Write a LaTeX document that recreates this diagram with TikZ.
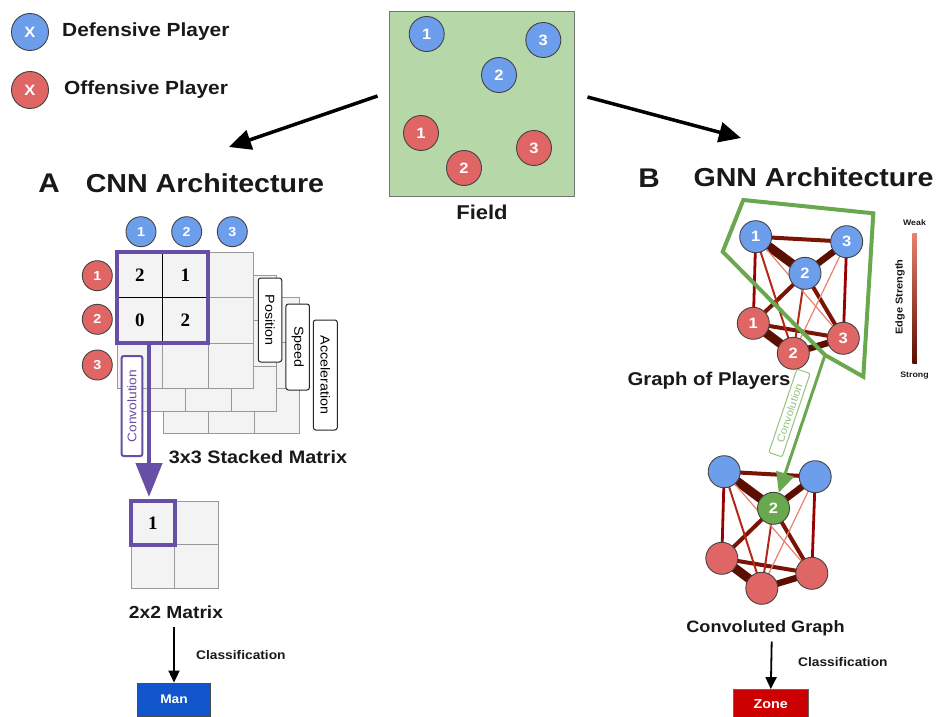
\documentclass[tikz,border=0pt]{standalone}
\usepackage{fontspec}
\setmainfont{Liberation Sans}
\newfontfamily\lbfam[FakeStretch=1.1]{Liberation Sans}
\newfontfamily\serfam{Liberation Serif}
\newcommand\fB[1]{\lbfam\bfseries\fontsize{#1}{#1}\selectfont}
\newcommand\fR[1]{\lbfam\fontsize{#1}{#1}\selectfont}
\newcommand\fS[1]{\serfam\bfseries\fontsize{#1}{#1}\selectfont}
\usetikzlibrary{arrows.meta,backgrounds}
\definecolor{pblue}{HTML}{6D9EEB}
\definecolor{pred}{HTML}{E06666}
\definecolor{fieldg}{HTML}{B6D7A8}
\definecolor{purp}{HTML}{674EA7}
\definecolor{gg}{HTML}{6AA84F}
\definecolor{lgg}{HTML}{93C47D}
\definecolor{cellg}{HTML}{F3F3F3}
\definecolor{gridg}{HTML}{999999}
\definecolor{manb}{HTML}{1155CC}
\definecolor{zoner}{HTML}{CC0000}
\definecolor{edA}{HTML}{5B0F00}
\definecolor{edB}{HTML}{7A1505}
\definecolor{edC}{HTML}{990000}
\definecolor{edD}{HTML}{B4281A}
\definecolor{edE}{HTML}{E8806F}
\definecolor{circb}{HTML}{434343}
\begin{document}
\begin{tikzpicture}[x=1pt,y=-1pt,
  pl/.style={circle, draw=circb, line width=0.9, inner sep=0, minimum size=#1, text=white},
  bp/.style={pl=#1, fill=pblue},
  rp/.style={pl=#1, fill=pred},
  gp/.style={pl=#1, fill=gg},
  lbl/.style={inner sep=0, text=black!90},
  lblbox/.style={draw=black!85, fill=white, rounded corners=2.5, rotate=-90, line width=1, inner sep=1, font=\fR{13}},
  bigarrow/.style={line width=3.5, -{Triangle[length=22,width=20]}},
  clsarrow/.style={line width=1.8, -{Triangle[length=12,width=11]}},
  eA/.style={edA, line width=9},
  eB/.style={edA, line width=6.5},
  eC/.style={edB, line width=4},
  eD/.style={edC, line width=2.8},
  eE/.style={edD, line width=2},
  eF/.style={edE, line width=1.2},
  cell/.style={draw=gridg, fill=cellg, line width=1},
]
\useasboundingbox (0,0) rectangle (937,717);

% legend
\node[bp=37, font=\fB{15}] (legb) at (30,32) {X};
\node[rp=37, font=\fB{15}] (legr) at (30,90) {X};
\node[lbl, anchor=west, font=\fB{19}] (legbt) at (62,32) {Defensive Player};
\node[lbl, anchor=west, font=\fB{19}] (legrt) at (64,90) {Offensive Player};

% field
\node[draw=black!55, fill=fieldg, minimum width=185, minimum height=184, line width=1, inner sep=0] (field) at (481.5,104) {};
\node[bp=35, font=\fB{15}] (fb1) at (426.7,34) {1};
\node[bp=35, font=\fB{15}] (fb3) at (543.3,40) {3};
\node[bp=35, font=\fB{15}] (fb2) at (499,75) {2};
\node[rp=35, font=\fB{15}] (fr1) at (421,133) {1};
\node[rp=35, font=\fB{15}] (fr2) at (464,168) {2};
\node[rp=35, font=\fB{15}] (fr3) at (534,148) {3};
\node[lbl, font=\fB{20}] (fieldt) at (482,212) {Field};
\coordinate (ltip) at (229,147);
\coordinate (rtip) at (741,138);
\draw[bigarrow] ([xshift=-11pt,yshift=8pt]field.west) -- (ltip);
\draw[bigarrow] ([xshift=13pt,yshift=7pt]field.east) -- (rtip);

% titles
\node[lbl, font=\fB{27}] (tA) at (49,183) {A};
\node[lbl, font=\fB{26}] (tCNN) at (205,183) {CNN Architecture};
\node[lbl, font=\fB{27}] (tB) at (649,178) {B};
\node[lbl, font=\fB{26}] (tGNN) at (813.5,177) {GNN Architecture};

% CNN stacked layers
\foreach \dx/\dy in {46/45,23/23,0/0}{
  \begin{scope}[shift={(\dx,\dy)}]
    \draw[cell] (117,252) rectangle (253.5,388.5);
    \draw[gridg, line width=1] (162.5,252) -- (162.5,388.5) (208,252) -- (208,388.5)
      (117,297.5) -- (253.5,297.5) (117,343) -- (253.5,343);
  \end{scope}
}
\draw[black, line width=1.3] (162.5,252) -- (162.5,343) (117,297.5) -- (208,297.5);
\node[font=\fS{19}] (c11) at (139.75,274.75) {2};
\node[font=\fS{19}] (c12) at (185.25,274.75) {1};
\node[font=\fS{19}] (c21) at (139.75,320.25) {0};
\node[font=\fS{19}] (c22) at (185.25,320.25) {2};
\node[draw=purp, line width=4, minimum width=91, minimum height=91, inner sep=0] (pbox) at (162.5,297.5) {};

\node[bp=30, font=\fB{13}] (cb1) at (141,231.7) {1};
\node[bp=30, font=\fB{13}] (cb2) at (186.7,231.7) {2};
\node[bp=30, font=\fB{13}] (cb3) at (232.3,231.7) {3};
\node[rp=30, font=\fB{13}] (cr1) at (97.3,275.7) {1};
\node[rp=30, font=\fB{13}] (cr2) at (97.3,319.3) {2};
\node[rp=30, font=\fB{13}] (cr3) at (97.3,365) {3};

\node[lblbox, minimum width=84, minimum height=23.5] (pos) at (270,320) {Position};
\node[lblbox, minimum width=86, minimum height=23.5] (spd) at (297.7,347) {Speed};
\node[lblbox, minimum width=110, minimum height=24] (acc) at (325.3,375) {Acceleration};

\node[draw=purp, fill=white, line width=2, rounded corners=2, rotate=90, text=purp, font=\fR{12.5}, minimum width=100, minimum height=20.6, inner sep=1] (convA) at (132,406) {Convolution};
\node[lbl, font=\fB{18}] (stk) at (258,457) {3x3 Stacked Matrix};

% 2x2 matrix
\draw[cell] (131,501) rectangle (218,588);
\draw[gridg, line width=1] (174.5,501) -- (174.5,588) (131,544.5) -- (218,544.5);
\node[draw=purp, line width=4, minimum width=43.5, minimum height=43.5, inner sep=0, font=\fS{19}] (m1) at (152.75,522.75) {1};
\coordinate (cx) at (149,0);
\draw[purp, line width=4.5, -{Triangle[length=34,width=26]}] (pbox.south -| cx) -- ([yshift=2pt]m1.north -| cx);
\node[lbl, font=\fB{17.5}] (m2t) at (176,612) {2x2 Matrix};
\node[fill=manb, draw=black!70, line width=0.8, minimum width=73, minimum height=33, inner sep=0, text=white, font=\fB{12.5}] (man) at (174,699.5) {Man};
\draw[clsarrow] (174,627) -- (man.north) ;
\node[lbl, anchor=west, font=\fB{12.5}] (clsA) at (196,655) {Classification};

% GNN graph
\node[bp=32, font=\fB{15}] (gb1) at (755.7,236.7) {1};
\node[bp=32, font=\fB{15}] (gb3) at (846.7,241.7) {3};
\node[bp=32, font=\fB{15}] (gb2) at (805,273.3) {2};
\node[rp=32, font=\fB{15}] (gr1) at (753.3,323.3) {1};
\node[rp=32, font=\fB{15}] (gr2) at (793.3,353.3) {2};
\node[rp=32, font=\fB{15}] (gr3) at (843.3,338.3) {3};

\begin{scope}[shift={(-31.5,235)}]
\node[bp=32] (hb1) at (755.7,236.7) {};
\node[bp=32] (hb3) at (846.7,241.7) {};
\node[gp=32, font=\fB{15}] (hb2) at (805,273.3) {2};
\node[rp=32] (hr1) at (753.3,323.3) {};
\node[rp=32] (hr2) at (793.3,353.3) {};
\node[rp=32] (hr3) at (843.3,338.3) {};
\end{scope}

\begin{scope}[on background layer]
\foreach \p in {g,h}{
  \foreach \a/\b/\s in {b1/b2/eA, b2/b3/eB, b1/b3/eC, r1/r2/eA, r2/r3/eB, r1/r3/eC,
     b2/r3/eC, b2/r1/eC, b1/r1/eD, b3/r3/eD, b1/r2/eE, b2/r2/eE, b1/r3/eF, b3/r2/eF}{
    \draw[\s] (\p\a.center) -- (\p\b.center);
  }
}
\end{scope}

\coordinate (gtail) at (825,355);
\draw[gg, line width=4, line join=miter] (743.3,200) -- (873.3,213.3) -- (863.3,376.7) -- (gtail) -- (722.7,251.7) -- cycle;
\node[draw=lgg, fill=white, text=lgg, rotate=71.4, rounded corners=2, line width=1, minimum width=88, minimum height=14, inner sep=0.5, font=\fR{10.5}] (convB) at (789.5,413) {Convolution};
\draw[gg, line width=3, -{Triangle[length=20,width=18]}] (gtail) -- (hb2);

\node[lbl, font=\fB{18.5}] (gpt) at (709,381) {Graph of Players};
\node[lbl, font=\fB{16.5}] (cgt) at (765.5,628) {Convoluted Graph};
\node[fill=zoner, draw=black!60, line width=0.8, minimum width=75, minimum height=29, inner sep=0, text=white, font=\fB{13}] (zone) at (770.8,704) {Zone};
\draw[clsarrow] (771.7,641.5) -- (zone.north);
\node[lbl, anchor=west, font=\fB{12.5}] (clsB) at (798,662) {Classification};

% colour bar
\node[inner sep=0, minimum width=4.5, minimum height=130, top color=edE, bottom color=edA] (bar) at (914.5,298) {};
\node[lbl, font=\fB{8}] (weak) at (914.5,223) {Weak};
\node[lbl, font=\fB{8}] (strong) at (914.5,376) {Strong};
\node[lbl, rotate=90, font=\fB{10}] (es) at (900,297) {Edge Strength};
\end{tikzpicture}
\end{document}
